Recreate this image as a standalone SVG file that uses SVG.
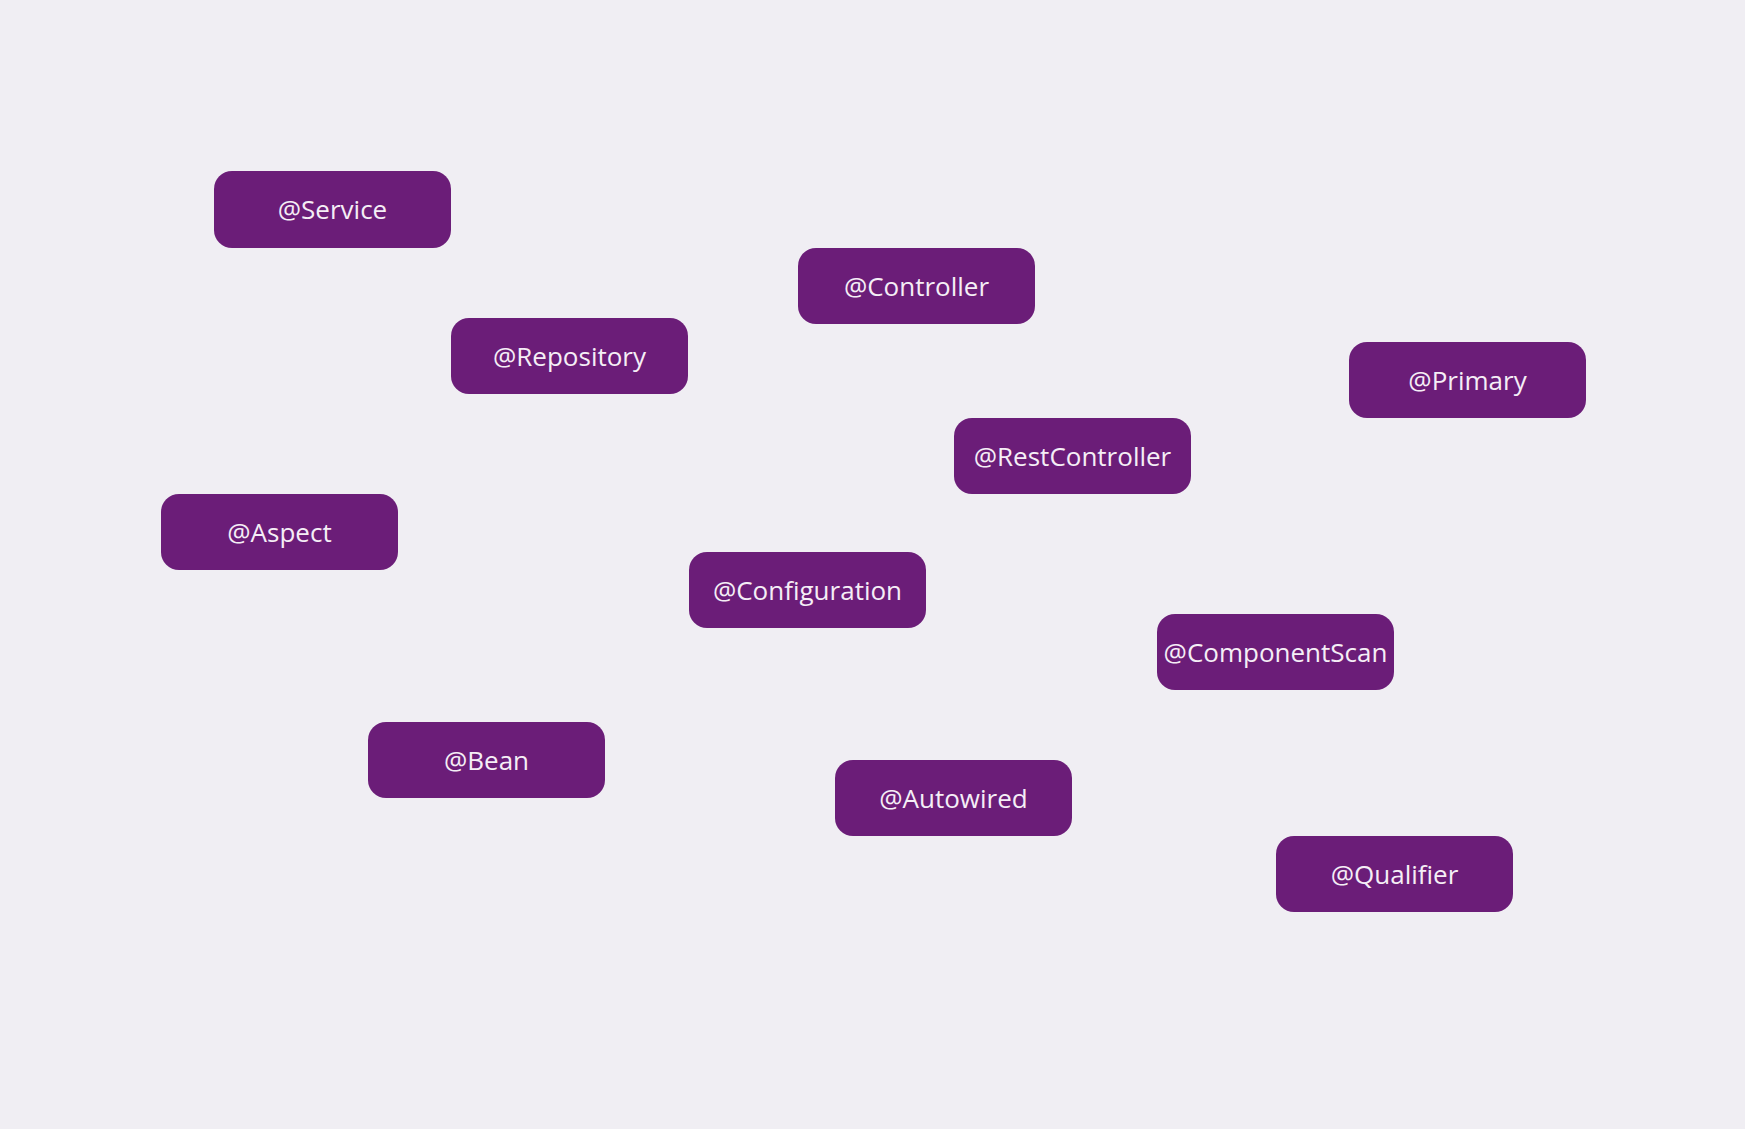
<svg xmlns="http://www.w3.org/2000/svg" width="1745" height="1129" viewBox="0 0 1745 1129">
<style>
.box{fill:#6B1D78;}
.lbl{fill:#F5EEF6;font-family:"Open Sans","Noto Sans",sans-serif;font-size:26px;text-anchor:middle;}
</style>
<rect width="1745" height="1129" fill="#F0EEF3"/>
<g id="connectors"/>
<g id="service"><rect class="box" x="214" y="171" width="237" height="77" rx="18"/><text class="lbl" x="332.5" y="219">@Service</text></g>
<g id="controller"><rect class="box" x="798" y="248" width="237" height="76" rx="18"/><text class="lbl" x="916.5" y="296">@Controller</text></g>
<g id="repository"><rect class="box" x="451" y="318" width="237" height="76" rx="18"/><text class="lbl" x="569.5" y="366">@Repository</text></g>
<g id="primary"><rect class="box" x="1349" y="342" width="237" height="76" rx="18"/><text class="lbl" x="1467.5" y="390">@Primary</text></g>
<g id="restcontroller"><rect class="box" x="954" y="418" width="237" height="76" rx="18"/><text class="lbl" x="1072.5" y="466">@RestController</text></g>
<g id="aspect"><rect class="box" x="161" y="494" width="237" height="76" rx="18"/><text class="lbl" x="279.5" y="542">@Aspect</text></g>
<g id="configuration"><rect class="box" x="689" y="552" width="237" height="76" rx="18"/><text class="lbl" x="807.5" y="600">@Configuration</text></g>
<g id="componentscan"><rect class="box" x="1157" y="614" width="237" height="76" rx="18"/><text class="lbl" x="1275.5" y="662">@ComponentScan</text></g>
<g id="bean"><rect class="box" x="368" y="722" width="237" height="76" rx="18"/><text class="lbl" x="486.5" y="770">@Bean</text></g>
<g id="autowired"><rect class="box" x="835" y="760" width="237" height="76" rx="18"/><text class="lbl" x="953.5" y="808">@Autowired</text></g>
<g id="qualifier"><rect class="box" x="1276" y="836" width="237" height="76" rx="18"/><text class="lbl" x="1394.5" y="884">@Qualifier</text></g>
</svg>
